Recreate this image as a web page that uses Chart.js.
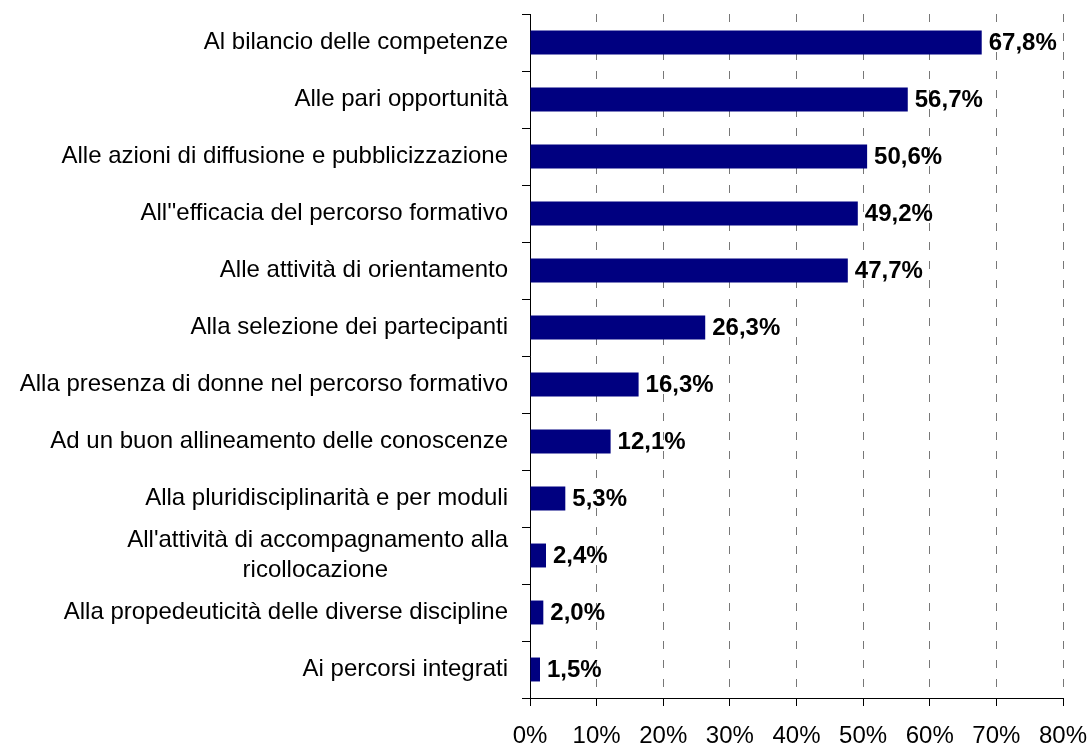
<!DOCTYPE html>
<html>
<head>
<meta charset="utf-8">
<script src="https://cdn.jsdelivr.net/npm/chart.js@4/dist/chart.umd.min.js"></script>
<style>
  html, body { margin: 0; padding: 0; background: #fff; }
  canvas { display: block; }
</style>
</head>
<body>
<canvas id="c" width="1090" height="749"></canvas>
<script>
const categories = [
  "Al bilancio delle competenze",
  "Alle pari opportunità",
  "Alle azioni di diffusione e pubblicizzazione",
  "All''efficacia del percorso formativo",
  "Alle attività di orientamento",
  "Alla selezione dei partecipanti",
  "Alla presenza di donne nel percorso formativo",
  "Ad un buon allineamento delle conoscenze",
  "Alla pluridisciplinarità e per moduli",
  ["All'attività di accompagnamento alla", "ricollocazione"],
  "Alla propedeuticità delle diverse discipline",
  "Ai percorsi integrati"
];
const values = [67.8, 56.7, 50.6, 49.2, 47.7, 26.3, 16.3, 12.1, 5.3, 2.4, 2.0, 1.5];
const xTicks = [0, 10, 20, 30, 40, 50, 60, 70, 80];

const FONT = '"Liberation Sans", Arial, sans-serif';
const FS = 24;

// center the second line of a two-line label under the first (right-aligned ticks)
const mctx = document.createElement('canvas').getContext('2d');
mctx.font = FS + 'px ' + FONT;
const labels = categories.map(c => {
  if (!Array.isArray(c)) return c;
  const w0 = mctx.measureText(c[0]).width;
  const w1 = mctx.measureText(c[1]).width;
  const sp = mctx.measureText(' ').width;
  const n = Math.round(((w0 - w1) / 2) / sp);
  return [c[0], c[1] + ' '.repeat(n)];
});

const valueLabels = {
  id: 'valueLabels',
  afterDatasetsDraw(chart) {
    const ctx = chart.ctx;
    const meta = chart.getDatasetMeta(0);
    ctx.save();
    ctx.font = 'bold ' + FS + 'px ' + FONT;
    ctx.fillStyle = '#000';
    ctx.textAlign = 'left';
    ctx.textBaseline = 'middle';
    meta.data.forEach((bar, i) => {
      const t = values[i].toFixed(1).replace('.', ',') + '%';
      ctx.fillText(t, bar.x + 7, bar.y + 1);
    });
    ctx.restore();
  }
};

new Chart(document.getElementById('c'), {
  type: 'bar',
  data: {
    labels: labels,
    datasets: [{
      data: values,
      backgroundColor: '#000080',
      borderWidth: 0,
      barPercentage: 0.42,
      categoryPercentage: 1
    }]
  },
  options: {
    indexAxis: 'y',
    responsive: false,
    animation: false,
    events: [],
    layout: { padding: { left: 0, right: 27, top: 14, bottom: 0 } },
    plugins: { legend: { display: false }, tooltip: { enabled: false } },
    scales: {
      y: {
        type: 'category',
        afterFit(scale) {
          scale.width = 530;
          scale.paddingTop = 0; scale.paddingBottom = 0;
          scale.paddingLeft = 0; scale.paddingRight = 0;
        },
        grid: { offset: true, drawOnChartArea: false, tickLength: 8, color: '#000', tickColor: '#000' },
        border: { color: '#000', width: 1 },
        ticks: { autoSkip: false, color: '#000', padding: 14, font: { family: FONT, size: FS, lineHeight: 1.25 } }
      },
      x: {
        min: 0,
        max: 80,
        afterFit(scale) {
          scale.height = 51;
          scale.paddingTop = 0; scale.paddingBottom = 0;
          scale.paddingLeft = 0; scale.paddingRight = 0;
        },
        afterBuildTicks(scale) { scale.ticks = xTicks.map(v => ({ value: v })); },
        grid: { color: '#777', tickColor: '#000', tickLength: 8, tickBorderDash: [] },
        border: { color: '#000', width: 1, dash: [8, 11] },
        ticks: { color: '#000', padding: 16, maxRotation: 0, font: { family: FONT, size: FS }, callback: v => v + '%' }
      }
    }
  },
  plugins: [valueLabels]
});
</script>
</body>
</html>
